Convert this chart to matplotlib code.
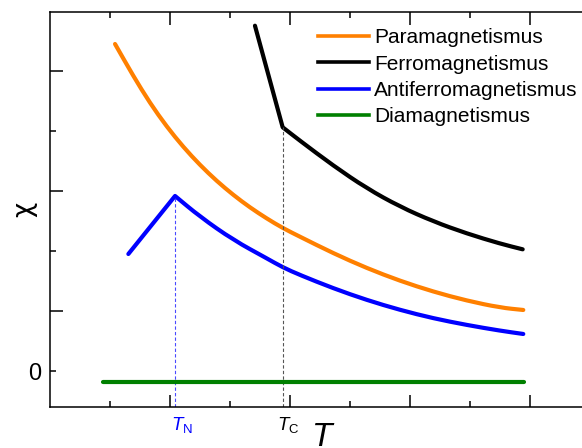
import matplotlib
matplotlib.use("Agg")
import matplotlib.pyplot as plt
from matplotlib.lines import Line2D
from matplotlib.path import Path
from matplotlib.patches import PathPatch

plt.rcParams['font.family'] = ['Liberation Sans', 'DejaVu Sans']
plt.rcParams['mathtext.fontset'] = 'custom'
plt.rcParams['mathtext.rm'] = 'Liberation Sans'
plt.rcParams['mathtext.it'] = 'Liberation Sans:italic'

# ---- data (T and chi in arbitrary units) ----
para_T = [0.542, 0.694, 0.833, 0.972, 1.111, 1.25, 1.389, 1.528, 1.667, 1.806,
          1.939, 2.083, 2.361, 2.639, 2.917, 3.194, 3.472, 3.75, 3.944]
para_chi = [5.45, 4.917, 4.467, 4.075, 3.733, 3.433, 3.167, 2.933, 2.725, 2.542,
            2.383, 2.238, 1.962, 1.715, 1.502, 1.322, 1.173, 1.057, 1.017]

ferro_T = [1.708, 1.939, 2.083, 2.361, 2.639, 2.917, 3.194, 3.472, 3.75, 3.939]
ferro_chi = [5.755, 4.062, 3.838, 3.422, 3.045, 2.738, 2.493, 2.292, 2.123, 2.028]

anti_T = [0.653, 1.042, 1.25, 1.528, 1.806, 1.939, 2.083, 2.361, 2.639, 2.917,
          3.194, 3.472, 3.75, 3.944]
anti_chi = [1.95, 2.917, 2.572, 2.183, 1.878, 1.728, 1.60, 1.378, 1.183, 1.017,
            0.878, 0.767, 0.672, 0.617]

dia_T = [0.442, 3.95]
dia_chi = [-0.183, -0.183]

T_N = 1.042
T_C = 1.939
chi_N = 2.917
chi_C = 4.062

labels = ["Paramagnetismus", "Ferromagnetismus", "Antiferromagnetismus", "Diamagnetismus"]
colors = ["#FF8000", "#000000", "#0000FF", "#008000"]

W, H = 582, 448
fig = plt.figure(figsize=(W / 100, H / 100), dpi=100)
ax = fig.add_axes([50 / W, (H - 407) / H, 540 / W, (407 - 12) / H])

lw = 3.0


def smooth_path(xs, ys, sharp=()):
    """Path through the points; corners listed in `sharp` (indices) stay sharp,
    other interior points are rounded with quadratic Bezier segments."""
    verts = [(xs[0], ys[0])]
    codes = [Path.MOVETO]
    n = len(xs)
    for i in range(1, n - 1):
        p = (xs[i], ys[i])
        if i in sharp:
            verts.append(p)
            codes.append(Path.LINETO)
            continue
        m0 = ((xs[i - 1] + xs[i]) / 2, (ys[i - 1] + ys[i]) / 2)
        m1 = ((xs[i] + xs[i + 1]) / 2, (ys[i] + ys[i + 1]) / 2)
        verts.append(m0)
        codes.append(Path.LINETO)
        verts.extend([p, m1])
        codes.extend([Path.CURVE3, Path.CURVE3])
    verts.append((xs[-1], ys[-1]))
    codes.append(Path.LINETO)
    return Path(verts, codes)


def draw(xs, ys, color, sharp=()):
    patch = PathPatch(smooth_path(xs, ys, sharp), facecolor='none', edgecolor=color,
                      lw=lw, capstyle='round', joinstyle='round')
    ax.add_patch(patch)


draw(para_T, para_chi, colors[0])
draw(ferro_T, ferro_chi, colors[1], sharp=(1,))
draw(anti_T, anti_chi, colors[2], sharp=(1,))
ax.plot(dia_T, dia_chi, color=colors[3], lw=lw, solid_capstyle='round')

ylo = -0.6
ax.plot([T_N, T_N], [ylo, chi_N], color="#4a4aff", lw=0.8, ls=(0, (3, 2)), zorder=1)
ax.plot([T_C, T_C], [ylo, chi_C], color="#555555", lw=0.8, ls=(0, (3, 2)), zorder=1)

ax.set_xlim(0, 4.5)
ax.set_ylim(ylo, (371 - 12) / 60)

for s in ax.spines.values():
    s.set_linewidth(1.1)
ax.spines['right'].set_visible(False)

ax.set_xticks([1, 2, 3, 4], labels=[])
ax.set_xticks([0.5, 1.5, 2.5, 3.5], minor=True, labels=[])
ax.set_yticks([1, 3, 5], labels=[])
ax.set_yticks([0, 2, 4], minor=True, labels=['0', '', ''])
ax.tick_params(which='both', direction='in', top=True, right=False, width=1.1, labelsize=17, pad=6)
ax.tick_params(which='major', length=9)
ax.tick_params(which='minor', length=4)

handles = [Line2D([], [], color=c, lw=2.6) for c in colors]
fig.legend(handles, labels, loc='upper left', bbox_to_anchor=(318 / W, 1 - 28 / H),
           frameon=False, fontsize=15, handlelength=2.45, handletextpad=0.25,
           labelspacing=0.36, borderpad=0, borderaxespad=0)

def px(x, y):
    return x / W, 1 - y / H

fig.text(*px(171, 430), r'$T_{\mathrm{N}}$', color='#0000FF', fontsize=13.5, ha='left', va='baseline')
fig.text(*px(277, 430), r'$T_{\mathrm{C}}$', color='black', fontsize=13.5, ha='left', va='baseline')
fig.text(*px(312, 446), 'T', fontstyle='italic', fontsize=24, ha='left', va='baseline')
fig.text(*px(24, 209), 'χ', fontsize=19, rotation=90, ha='center', va='center', family='DejaVu Sans')

fig.savefig('out.png', dpi=100)
